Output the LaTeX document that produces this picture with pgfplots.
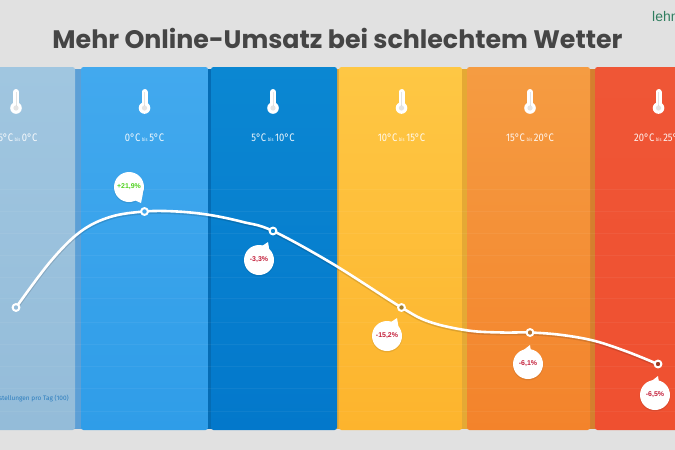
\documentclass[border=0pt]{standalone}
\usepackage{pgfplots}
\pgfplotsset{compat=1.18}
\usepackage{fontspec}
\setmainfont{Liberation Sans}
\newfontfamily\titlefont{Poppins}
\newfontfamily\labfont{Fira Sans}
\definecolor{bgc}{HTML}{E1E1E1}
\definecolor{titlec}{HTML}{454545}
\definecolor{gr}{HTML}{4FD11F}
\definecolor{rd}{HTML}{C4203B}
\definecolor{lehrc}{HTML}{2E7D5E}
\definecolor{a1}{HTML}{A0C6E0}\definecolor{a2}{HTML}{94BCD9}
\definecolor{b1}{HTML}{42A9EE}\definecolor{b2}{HTML}{2F9DE8}\definecolor{bs}{HTML}{5C9FD6}
\definecolor{c1}{HTML}{0B87D2}\definecolor{c2}{HTML}{0378CB}\definecolor{cs}{HTML}{056CB4}
\definecolor{d1}{HTML}{FEC744}\definecolor{d2}{HTML}{FDB42D}\definecolor{ds}{HTML}{E5A934}
\definecolor{e1}{HTML}{F59C42}\definecolor{e2}{HTML}{F3832B}\definecolor{es}{HTML}{D47F2E}
\definecolor{f1}{HTML}{EF5636}\definecolor{f2}{HTML}{EF5030}\definecolor{fs}{HTML}{CC4A2A}
\newcommand{\panel}[4]{%
  \addplot[draw=none,top color=#3,bottom color=#4,rounded corners=2.5pt,forget plot] coordinates {(#1,67) (#2,67) (#2,430) (#1,430)} --cycle;}
\newcommand{\strip}[3]{%
  \addplot[draw=none,fill=#3,forget plot] coordinates {(#1,69) (#2,69) (#2,429) (#1,429)} --cycle;}
\newcommand{\thermo}[1]{%
  \draw[white,line width=6bp,line cap=round] (axis cs:#1,92) -- (axis cs:#1,106);
  \fill[white] (axis cs:#1,108) circle[radius=5.8bp];
  \draw[white!70!black,opacity=.35,line width=.8bp] (axis cs:#1,92) -- (axis cs:#1,106);
  \fill[white!70!black,opacity=.35] (axis cs:#1,108) circle[radius=2.6bp];}
\newcommand{\templab}[3]{\node[text=white,opacity=.92,font=\labfont\fontsize{11}{11}\selectfont] at (axis cs:#1,138)
  {\scalebox{.86}[1]{#2\,{\fontsize{5}{5}\selectfont bis}\,#3}};}
\newcommand{\bubble}[7]{%
  \fill[black,opacity=.08] (axis cs:#1,#2+1) circle[radius=15.4bp];
  \fill[white] (axis cs:#3,#4) -- (axis cs:#3-9,#2+#7*12) -- (axis cs:#3+2,#2+#7*6) -- cycle;
  \fill[white] (axis cs:#1,#2) circle[radius=15bp];
  \node[text=#6,font=\bfseries\fontsize{7}{7}\selectfont,inner sep=0] at (axis cs:#1,#2) {#5};}
\begin{document}
\begin{tikzpicture}
\useasboundingbox (0,0) rectangle (675bp,450bp);
\clip (0,0) rectangle (675bp,450bp);
\begin{axis}[
  at={(0,0)},anchor=south west,
  scale only axis,width=675bp,height=450bp,
  xmin=0,xmax=675,ymin=0,ymax=450,y dir=reverse,
  axis lines=none,clip=false,
]
\addplot[draw=none,fill=bgc,forget plot] coordinates {(0,0) (675,0) (675,450) (0,450)} --cycle;
\strip{74}{84}{bs}
\strip{205}{214}{cs}
\strip{335}{342}{ds}
\strip{460}{470}{ds}
\strip{588}{598}{es}
\panel{-5}{75}{a1}{a2}
\panel{81}{208}{b1}{b2}
\panel{211}{337}{c1}{c2}
\panel{339}{462}{d1}{d2}
\panel{467}{590}{e1}{e2}
\panel{595}{680}{f1}{f2}
\foreach \yy in {189,211,233,255,277,298,322,344,366,388,411}{
  \edef\temp{\noexpand\addplot[white,opacity=.05,line width=.7bp,forget plot] coordinates {(0,\yy) (675,\yy)};}
  \temp
}
\addplot[black,opacity=.12,line width=3.4bp,smooth,tension=.6,forget plot,yshift=-1.2bp] coordinates {
 (16,307.5)(50,262)(80,232)(110,217)(144.5,211.5)(177,211.5)(210,215)(243,222)(273,231)(333,264)(401.5,307.5)(430,322)(468,330.5)(502,332.5)(530,332.5)(562,335)(595,341)(628,352)(657.5,364)};
\addplot[white,line width=2.6bp,smooth,tension=.6,forget plot] coordinates {
 (16,307.5)(50,262)(80,232)(110,217)(144.5,211.5)(177,211.5)(210,215)(243,222)(273,231)(333,264)(401.5,307.5)(430,322)(468,330.5)(502,332.5)(530,332.5)(562,335)(595,341)(628,352)(657.5,364)};
\addplot[only marks,mark=*,mark size=3.4bp,mark options={draw=white,line width=2bp,fill=a2},forget plot] coordinates {(16,307.5)};
\addplot[only marks,mark=*,mark size=3.4bp,mark options={draw=white,line width=2bp,fill=b1},forget plot] coordinates {(144.5,211.5)};
\addplot[only marks,mark=*,mark size=3.4bp,mark options={draw=white,line width=2bp,fill=c1},forget plot] coordinates {(273,231)};
\addplot[only marks,mark=*,mark size=3.4bp,mark options={draw=white,line width=2bp,fill=d1!65!black},forget plot] coordinates {(401.5,307.5)};
\addplot[only marks,mark=*,mark size=3.4bp,mark options={draw=white,line width=2bp,fill=e1!75!black},forget plot] coordinates {(530,332.5)};
\addplot[only marks,mark=*,mark size=3.4bp,mark options={draw=white,line width=2bp,fill=f1!65!black},forget plot] coordinates {(658,364)};
\thermo{16}\thermo{144.5}\thermo{273}\thermo{401.5}\thermo{530}\thermo{658.5}
\templab{16}{-5°C}{0°C}
\templab{144.5}{0°C}{5°C}
\templab{273}{5°C}{10°C}
\templab{401.5}{10°C}{15°C}
\templab{530}{15°C}{20°C}
\templab{658.5}{20°C}{25°C}
\bubble{129}{187}{141}{203}{+21,9\%}{gr}{1}
\bubble{259}{260}{268}{242}{-3,3\%}{rd}{-1}
\bubble{387}{336}{397}{318}{-15,2\%}{rd}{-1}
\bubble{528}{364}{530}{345}{-6,1\%}{rd}{-1}
\bubble{655}{395}{658}{376}{-6,5\%}{rd}{-1}
\node[text=titlec,font=\titlefont\bfseries\fontsize{25.4}{25.4}\selectfont,inner sep=0] at (axis cs:337.5,38) {Mehr Online-Umsatz bei schlechtem Wetter};
\node[text=lehrc,font=\fontsize{14}{14}\selectfont,anchor=west,inner sep=0] at (axis cs:652,17) {lehmanns};
\node[text=blue!45!cyan!70!black,opacity=.7,font=\labfont\fontsize{6.5}{6.5}\selectfont,anchor=east,inner sep=0] at (axis cs:69,398) {Bestellungen pro Tag (100)};
\end{axis}
\end{tikzpicture}
\end{document}
